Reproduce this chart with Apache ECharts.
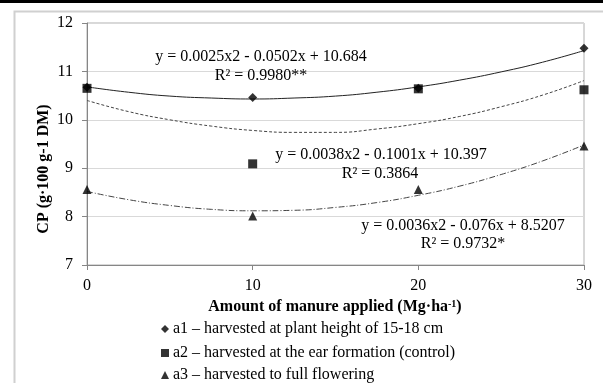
<!DOCTYPE html>
<html><head><meta charset="utf-8">
<script src="https://cdn.jsdelivr.net/npm/echarts@6/dist/echarts.min.js"></script>
<style>html,body{margin:0;padding:0;background:#fff}#c{width:603px;height:383px}</style>
</head><body><div id="c"></div>
<script>
var xValues = [0, 10, 20, 30];
var a1 = [10.67, 10.46, 10.65, 11.48];
var a2 = [10.65, 9.09, 10.64, 10.62];
var a3 = [8.56, 8.01, 8.56, 9.46];
var trendX = [0, 2.5, 5, 7.5, 10, 12.5, 15, 17.5, 20, 22.5, 25, 27.5, 30];
var trend1 = [10.68, 10.57, 10.49, 10.45, 10.43, 10.45, 10.49, 10.57, 10.68, 10.82, 10.99, 11.19, 11.43];
var trend2 = [10.40, 10.17, 10.00, 9.87, 9.78, 9.74, 9.74, 9.81, 9.92, 10.07, 10.27, 10.51, 10.81];
var trend3 = [8.52, 8.35, 8.23, 8.15, 8.12, 8.13, 8.19, 8.29, 8.44, 8.63, 8.87, 9.15, 9.48];
var yTicks = [7, 8, 9, 10, 11, 12];
var xTicks = [0, 10, 20, 30];
var names = ['a1 \u2013 harvested at plant height of 15-18 cm',
             'a2 \u2013 harvested at the ear formation (control)',
             'a3 \u2013 harvested to full flowering'];
var eq = [
  ['y = 0.0025x2 - 0.0502x + 10.684', 'R\u00b2 = 0.9980**'],
  ['y = 0.0038x2 - 0.1001x + 10.397', 'R\u00b2 = 0.3864'],
  ['y = 0.0036x2 - 0.076x + 8.5207', 'R\u00b2 = 0.9732*']
];
function pairs(xs, ys){ return xs.map(function(x,i){return [x, ys[i]];}); }
var F = '"Liberation Serif", "Times New Roman", serif';
var chart = echarts.init(document.getElementById('c'));
var eqPos = [[261,57,261,76],[381,155,380,174],[463,226,463,244]];
var graphics = [
  {type:'rect', shape:{x:0,y:0,width:603,height:3}, style:{fill:'#000'}, z:100},
  {type:'rect', shape:{x:14.5,y:11.5,width:620,height:400}, style:{fill:'none',stroke:'#d0d0d0',lineWidth:2}, z:0},
  {type:'text', x:44, y:169, rotation:Math.PI/2, style:{text:'CP (g\u00b7100 g-1 DM)', font:'bold 16px '+F, fill:'#000', textAlign:'center', textVerticalAlign:'middle'}},
  {type:'text', x:335, y:307, style:{rich:{b:{font:'bold 16px '+F, fill:'#000'}, s:{font:'bold 10px '+F, fill:'#000', verticalAlign:'top', padding:[0,0,6,0]}}, text:'{b|Amount of manure applied (Mg\u00b7ha}{s|-1}{b|)}', textAlign:'center', textVerticalAlign:'middle'}}
];
eqPos.forEach(function(p,i){
  graphics.push({type:'text', x:p[0], y:p[1], style:{text:eq[i][0], font:'16px '+F, fill:'#000', textAlign:'center', textVerticalAlign:'middle'}, z:50});
  graphics.push({type:'text', x:p[2], y:p[3], style:{text:eq[i][1], font:'16px '+F, fill:'#000', textAlign:'center', textVerticalAlign:'middle'}, z:50});
});
var icons = ['diamond','rect','triangle'];
var legendTops = [316, 340, 362];
var legends = names.map(function(n,i){
  return {orient:'horizontal', left:156, top:legendTops[i], itemGap:5, itemWidth:8, itemHeight:8,
    textStyle:{fontFamily:F, fontSize:16, color:'#000', lineHeight:16, padding:[0,0,0,-1]},
    data:[{name:n, icon:icons[i]}]};
});
chart.setOption({
  animation:false,
  backgroundColor:'#fff',
  grid:{left:87, right:19, top:23, bottom:118, show:true, borderColor:'#b0b0b0', borderWidth:1},
  xAxis:{type:'value', min:0, max:30, interval:10,
    axisLine:{show:true, lineStyle:{color:'#868686'}},
    axisTick:{show:true, length:5, lineStyle:{color:'#868686'}},
    splitLine:{show:false},
    axisLabel:{fontFamily:F, fontSize:16, color:'#000', margin:13,
      formatter:function(v){return xTicks.indexOf(v)>=0? String(v):'';}}},
  yAxis:{type:'value', min:7, max:12, interval:1,
    axisLine:{show:true, lineStyle:{color:'#868686'}},
    axisTick:{show:true, length:5, lineStyle:{color:'#868686'}},
    splitLine:{show:true, lineStyle:{color:'#d9d9d9'}},
    axisLabel:{fontFamily:F, fontSize:16, color:'#000', margin:14,
      formatter:function(v){return yTicks.indexOf(v)>=0? String(v):'';}}},
  legend:legends,
  graphic:graphics,
  series:[
    {type:'line', data:pairs(trendX,trend1), smooth:true, symbol:'none', lineStyle:{color:'#222', width:1}, silent:true, z:2},
    {type:'line', data:pairs(trendX,trend2), smooth:true, symbol:'none', lineStyle:{color:'#444', width:1, type:[3,2]}, silent:true, z:2},
    {type:'line', data:pairs(trendX,trend3), smooth:true, symbol:'none', lineStyle:{color:'#444', width:1, type:[6,2,1,2]}, silent:true, z:2},
    {name:names[0], type:'scatter', data:pairs(xValues,a1), symbol:'diamond', symbolSize:9, itemStyle:{color:'#000'}, z:3},
    {name:names[1], type:'scatter', data:pairs(xValues,a2), symbol:'rect', symbolSize:9, itemStyle:{color:'#000'}, z:4},
    {name:names[2], type:'scatter', data:pairs(xValues,a3), symbol:'triangle', symbolSize:9, itemStyle:{color:'#000'}, z:5}
  ]
});
</script></body></html>
